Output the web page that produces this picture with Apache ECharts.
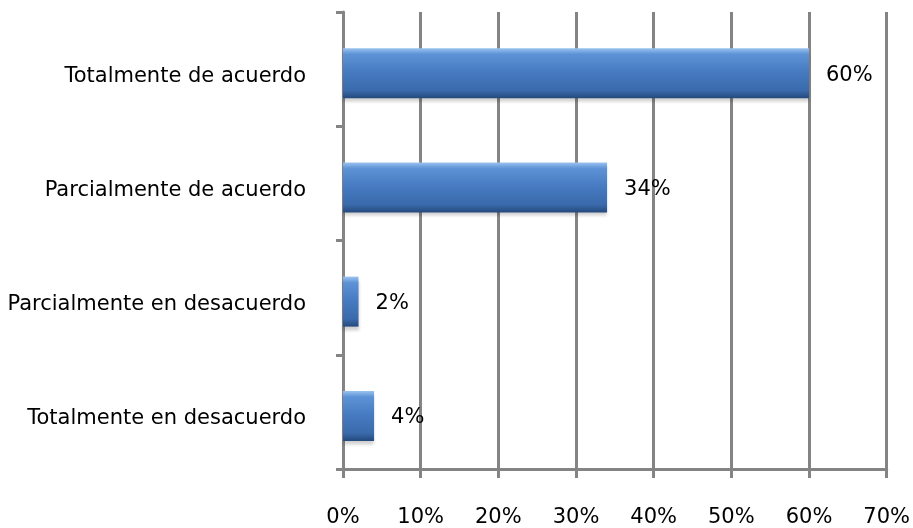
<!DOCTYPE html>
<html>
<head>
<meta charset="utf-8">
<script src="https://cdn.jsdelivr.net/npm/echarts@6/dist/echarts.min.js"></script>
<style>html,body{margin:0;padding:0;background:#fff;}#c{width:913px;height:528px;}</style>
</head>
<body>
<div id="c"></div>
<script>
const categories = ["Totalmente de acuerdo", "Parcialmente de acuerdo", "Parcialmente en desacuerdo", "Totalmente en desacuerdo"];
const values = [60, 34, 2, 4];
const spacer = [0, 0, 0, 0];
const ticks = [0, 10, 20, 30, 40, 50, 60, 70];

const chart = echarts.init(document.getElementById('c'));
const grey = '#848484';
const font = 'DejaVu Sans, Verdana, sans-serif';
chart.setOption({
  animation: false,
  grid: { left: 343, right: 26, top: 12, bottom: 57 },
  xAxis: {
    type: 'value', min: ticks[0], max: ticks[ticks.length - 1], interval: 10,
    axisLine: { show: true, lineStyle: { color: grey, width: 3 } },
    axisTick: { show: true, length: 9, lineStyle: { color: grey, width: 3 } },
    splitLine: { show: true, lineStyle: { color: grey, width: 3 } },
    axisLabel: { formatter: '{value}%', color: '#000', fontSize: 21, fontFamily: font, margin: 38 }
  },
  yAxis: {
    type: 'category', data: categories, inverse: true,
    axisLine: { show: true, lineStyle: { color: grey, width: 3 } },
    axisTick: { show: true, length: 7, lineStyle: { color: grey, width: 3 } },
    axisLabel: { color: '#000', fontSize: 21, fontFamily: font, margin: 37, verticalAlign: 'top', lineHeight: 14 }
  },
  series: [{
    type: 'bar', data: spacer, barWidth: 8, barGap: 0, silent: true,
    itemStyle: { color: 'rgba(0,0,0,0)' }, label: { show: false }
  }, {
    type: 'bar', data: values, barWidth: 50, barGap: 0,
    itemStyle: {
      color: new echarts.graphic.LinearGradient(0, 0, 0, 1, [
        { offset: 0, color: '#9cc3f0' },
        { offset: 0.12, color: '#5d93d6' },
        { offset: 0.5, color: '#4579c0' },
        { offset: 0.85, color: '#3a6aab' },
        { offset: 1, color: '#24497c' }
      ]),
      shadowColor: 'rgba(0,0,0,0.18)', shadowOffsetY: 4, shadowBlur: 3
    },
    label: { show: true, position: 'right', distance: 17, formatter: '{c}%', color: '#000', fontSize: 21, fontFamily: font, verticalAlign: 'top', lineHeight: 4 }
  }]
});
</script>
</body>
</html>
